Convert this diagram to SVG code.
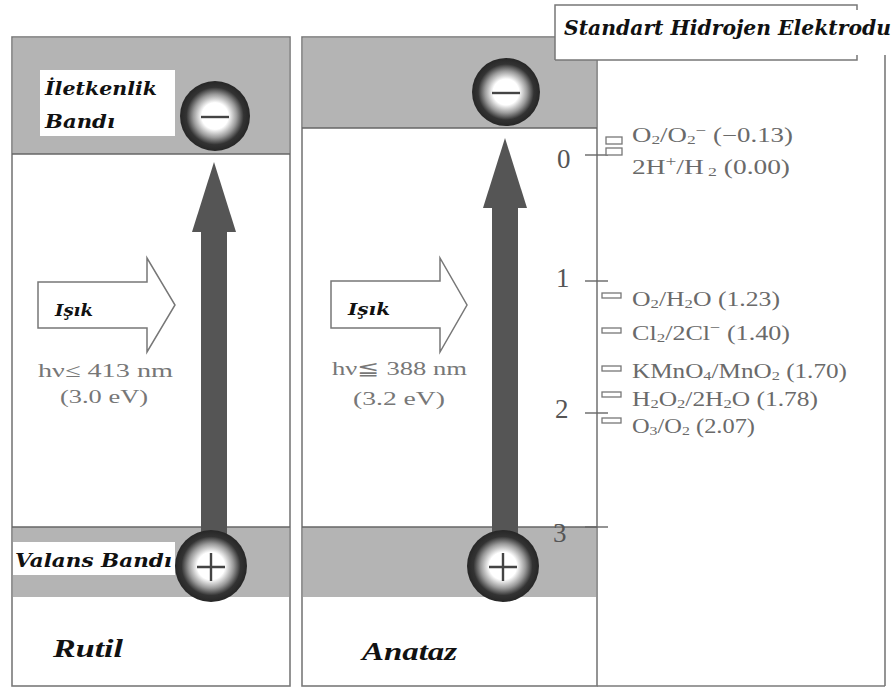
<svg xmlns="http://www.w3.org/2000/svg" width="894" height="688" viewBox="0 0 894 688">
<style>
.panel{fill:#fff;stroke:#7a7a7a;stroke-width:1.6}
.band{fill:#b4b4b4}
.edge{stroke:#666;stroke-width:1.6}
.lbl{font-family:"DejaVu Serif","Liberation Serif",serif;font-weight:bold;font-style:italic;fill:#111}
.name{font-family:"Liberation Serif",serif;font-weight:bold;font-style:italic;fill:#111;font-size:25px}
.hv{font-family:"Liberation Serif",serif;fill:#777;font-size:19px}
.redox{font-family:"Liberation Serif",serif;fill:#6a6a6a;font-size:20px}
.num{font-family:"Liberation Serif",serif;fill:#555;font-size:27px}
.tick{stroke:#666;stroke-width:1.4}
.cpl{fill:#fff;stroke:#777;stroke-width:1.3}
.light{fill:#fff;stroke:#777;stroke-width:1.5}
.exc{fill:#555}
.sign{stroke:#444;stroke-width:2.4;fill:none}
</style>
<defs>
<radialGradient id="ball" cx="50%" cy="50%" r="50%">
<stop offset="0" stop-color="#fff"/>
<stop offset="0.38" stop-color="#fff"/>
<stop offset="0.62" stop-color="#9a9a9a"/>
<stop offset="0.82" stop-color="#333"/>
<stop offset="1" stop-color="#262626"/>
</radialGradient>
</defs>
<rect width="894" height="688" fill="#fff"/>

<g id="rutil-panel">
<rect class="panel" x="12" y="37" width="278" height="649"/>
<rect class="band" x="13" y="38" width="276" height="116"/>
<line class="edge" x1="12" y1="154" x2="290" y2="154"/>
<rect class="band" x="13" y="527" width="276" height="70"/>
<line class="edge" x1="12" y1="527" x2="290" y2="527"/>
</g>

<g id="anataz-panel">
<rect class="panel" x="302" y="37" width="295" height="649"/>
<rect class="band" x="303" y="38" width="293" height="90"/>
<line class="edge" x1="302" y1="128" x2="597" y2="128"/>
<rect class="band" x="303" y="527" width="293" height="70"/>
<line class="edge" x1="302" y1="527" x2="597" y2="527"/>
</g>

<g id="she-panel">
<line class="panel" x1="885" y1="55" x2="885" y2="686"/>
<line class="panel" x1="597" y1="686" x2="885" y2="686"/>
</g>

<g id="she-label">
<rect x="555" y="5" width="302" height="55" fill="#fff"/>
<path d="M555,60 V5 H857 V10 M555,60 H857 V55" fill="none" stroke="#777" stroke-width="1.5"/>
<text class="lbl" x="564" y="35" font-size="20" textLength="327" lengthAdjust="spacingAndGlyphs">Standart Hidrojen Elektrodu</text>
</g>

<g id="connectors">
<rect class="exc" x="201" y="228" width="26" height="312"/>
<polygon class="exc" points="214,162 236,232 192,232"/>
<rect class="exc" x="492" y="204" width="26" height="336"/>
<polygon class="exc" points="505,138 527,208 483,208"/>
</g>

<g id="iletkenlik-label">
<rect x="40" y="70" width="135" height="66" fill="#fff"/>
<text class="lbl" x="45" y="95" font-size="19" textLength="112" lengthAdjust="spacingAndGlyphs">İletkenlik</text>
<text class="lbl" x="45" y="128" font-size="19" textLength="70" lengthAdjust="spacingAndGlyphs">Bandı</text>
</g>

<g id="valans-label">
<rect x="13" y="542" width="162" height="33" fill="#fff"/>
<text class="lbl" x="15" y="567" font-size="19" textLength="157" lengthAdjust="spacingAndGlyphs">Valans Bandı</text>
</g>

<g id="rutil-electron">
<circle cx="215" cy="116" r="35" fill="url(#ball)"/>
<line class="sign" x1="201" y1="117" x2="229" y2="117"/>
</g>
<g id="anataz-electron">
<circle cx="506" cy="92" r="34" fill="url(#ball)"/>
<line class="sign" x1="492" y1="93" x2="520" y2="93"/>
</g>
<g id="rutil-hole">
<circle cx="211" cy="566" r="36" fill="url(#ball)"/>
<path class="sign" d="M197,567 H225 M211,553 V581"/>
</g>
<g id="anataz-hole">
<circle cx="503" cy="566" r="36" fill="url(#ball)"/>
<path class="sign" d="M489,567 H517 M503,553 V581"/>
</g>

<g id="rutil-light">
<polygon class="light" points="38,282 147,282 147,258 175,305 147,352 147,328 38,328"/>
<text class="lbl" x="55" y="316" font-size="17" textLength="38" lengthAdjust="spacingAndGlyphs">Işık</text>
<text class="hv" x="38" y="377" textLength="135" lengthAdjust="spacingAndGlyphs">hν≤ 413 nm</text>
<text class="hv" x="60" y="403" textLength="88" lengthAdjust="spacingAndGlyphs">(3.0  eV)</text>
</g>

<g id="anataz-light">
<polygon class="light" points="331,281 440,281 440,258 467,305 440,352 440,328 331,328"/>
<text class="lbl" x="348" y="315" font-size="17" textLength="42" lengthAdjust="spacingAndGlyphs">Işık</text>
<text class="hv" x="332" y="375" textLength="135" lengthAdjust="spacingAndGlyphs">hν≦ 388 nm</text>
<text class="hv" x="353" y="405" textLength="92" lengthAdjust="spacingAndGlyphs">(3.2  eV)</text>
</g>

<g id="rutil-name"><text class="name" x="53" y="657" textLength="70" lengthAdjust="spacingAndGlyphs">Rutil</text></g>
<g id="anataz-name"><text class="name" x="362" y="660" textLength="95" lengthAdjust="spacingAndGlyphs">Anataz</text></g>

<g id="scale">
<line class="tick" x1="585" y1="155" x2="608" y2="155"/>
<line class="tick" x1="585" y1="281" x2="608" y2="281"/>
<line class="tick" x1="585" y1="413" x2="608" y2="413"/>
<line class="tick" x1="585" y1="527" x2="608" y2="527"/>
<text class="num" x="557" y="168">0</text>
<text class="num" x="556" y="287">1</text>
<text class="num" x="555" y="418">2</text>
<text class="num" x="553" y="542">3</text>
</g>

<g id="redox-couples">
<rect class="cpl" x="606" y="137" width="16" height="7"/>
<rect class="cpl" x="606" y="148" width="16" height="7"/>
<rect class="cpl" x="602" y="293" width="19" height="5"/>
<rect class="cpl" x="602" y="328" width="19" height="5"/>
<rect class="cpl" x="602" y="366" width="19" height="5"/>
<rect class="cpl" x="602" y="392" width="19" height="5"/>
<rect class="cpl" x="602" y="418" width="19" height="5"/>
<text class="redox" x="632" y="142" textLength="161" lengthAdjust="spacingAndGlyphs">O<tspan font-size="13" dy="2">2</tspan><tspan dy="-2">/O</tspan><tspan font-size="13" dy="2">2</tspan><tspan font-size="14" dy="-9">−</tspan><tspan dy="7"> (−0.13)</tspan></text>
<text class="redox" x="632" y="174" textLength="158" lengthAdjust="spacingAndGlyphs">2H<tspan font-size="14" dy="-8">+</tspan><tspan dy="8">/H</tspan><tspan font-size="13" dy="2"> 2</tspan><tspan dy="-2"> (0.00)</tspan></text>
<text class="redox" x="632" y="306" textLength="148" lengthAdjust="spacingAndGlyphs">O<tspan font-size="13" dy="2">2</tspan><tspan dy="-2">/H</tspan><tspan font-size="13" dy="2">2</tspan><tspan dy="-2">O (1.23)</tspan></text>
<text class="redox" x="632" y="340" textLength="158" lengthAdjust="spacingAndGlyphs">Cl<tspan font-size="13" dy="2">2</tspan><tspan dy="-2">/2Cl</tspan><tspan font-size="14" dy="-8">−</tspan><tspan dy="8"> (1.40)</tspan></text>
<text class="redox" x="632" y="378" textLength="215" lengthAdjust="spacingAndGlyphs">KMnO<tspan font-size="13" dy="2">4</tspan><tspan dy="-2">/MnO</tspan><tspan font-size="13" dy="2">2</tspan><tspan dy="-2"> (1.70)</tspan></text>
<text class="redox" x="632" y="406" textLength="186" lengthAdjust="spacingAndGlyphs">H<tspan font-size="13" dy="2">2</tspan><tspan dy="-2">O</tspan><tspan font-size="13" dy="2">2</tspan><tspan dy="-2">/2H</tspan><tspan font-size="13" dy="2">2</tspan><tspan dy="-2">O (1.78)</tspan></text>
<text class="redox" x="632" y="433" textLength="123" lengthAdjust="spacingAndGlyphs">O<tspan font-size="13" dy="2">3</tspan><tspan dy="-2">/O</tspan><tspan font-size="13" dy="2">2</tspan><tspan dy="-2"> (2.07)</tspan></text>
</g>
</svg>
